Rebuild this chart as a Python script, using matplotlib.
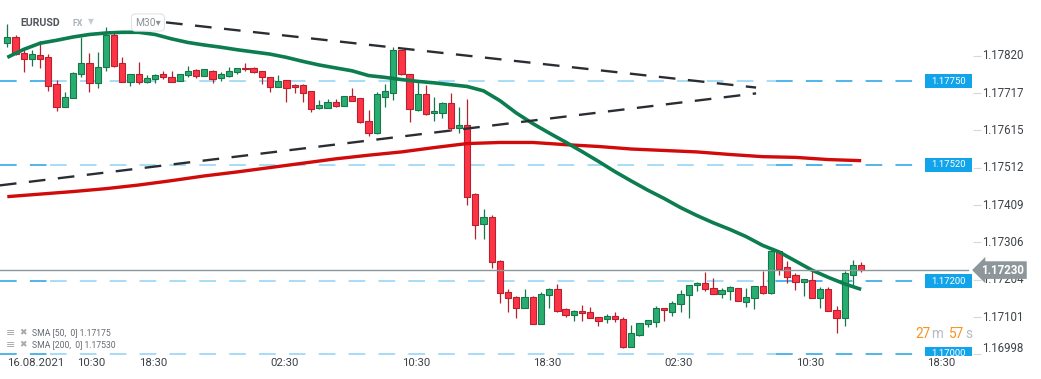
import numpy as np
import matplotlib.pyplot as plt
from matplotlib.patches import Rectangle
from matplotlib.transforms import offset_copy

plt.rcParams['font.family'] = ['Roboto', 'DejaVu Sans']
plt.rcParams['lines.scale_dashes'] = False

# EURUSD M30 candles
opens = [1.17854, 1.17870, 1.17826, 1.17811, 1.17822, 1.17815, 1.17742, 1.17678, 1.17702, 1.17769,
         1.17799, 1.17744, 1.17788, 1.17877, 1.17799, 1.17746, 1.17769, 1.17746, 1.17755, 1.17769,
         1.17762, 1.17749, 1.17767, 1.17780, 1.17763, 1.17778, 1.17757, 1.17764, 1.17775, 1.17787,
         1.17785, 1.17778, 1.17760, 1.17734, 1.17753, 1.17738, 1.17738, 1.17723, 1.17675, 1.17677,
         1.17691, 1.17681, 1.17710, 1.17702, 1.17640, 1.17608, 1.17707, 1.17718, 1.17835, 1.17769,
         1.17670, 1.17713, 1.17661, 1.17661, 1.17689, 1.17620, 1.17628, 1.17438, 1.17356, 1.17375,
         1.17254, 1.17169, 1.17155, 1.17125, 1.17155, 1.17081, 1.17161, 1.17177, 1.17122, 1.17106,
         1.17118, 1.17114, 1.17100, 1.17095, 1.17103, 1.17095, 1.17018, 1.17052, 1.17081, 1.17088,
         1.17125, 1.17116, 1.17136, 1.17161, 1.17188, 1.17194, 1.17180, 1.17163, 1.17172, 1.17180,
         1.17143, 1.17152, 1.17186, 1.17168, 1.17283, 1.17238, 1.17216, 1.17196, 1.17202, 1.17152,
         1.17177, 1.17120, 1.17097, 1.17217, 1.17244]
highs = [1.17907, 1.17877, 1.17837, 1.17835, 1.17859, 1.17824, 1.17753, 1.17720, 1.17776, 1.17872,
         1.17828, 1.17829, 1.17899, 1.17881, 1.17815, 1.17769, 1.17802, 1.17766, 1.17769, 1.17777,
         1.17777, 1.17768, 1.17791, 1.17782, 1.17782, 1.17780, 1.17776, 1.17789, 1.17787, 1.17800,
         1.17789, 1.17778, 1.17760, 1.17767, 1.17753, 1.17742, 1.17742, 1.17723, 1.17699, 1.17701,
         1.17701, 1.17710, 1.17730, 1.17702, 1.17670, 1.17719, 1.17741, 1.17844, 1.17835, 1.17769,
         1.17753, 1.17739, 1.17707, 1.17692, 1.17716, 1.17678, 1.17701, 1.17441, 1.17397, 1.17381,
         1.17258, 1.17177, 1.17159, 1.17177, 1.17159, 1.17170, 1.17181, 1.17192, 1.17126, 1.17120,
         1.17134, 1.17128, 1.17100, 1.17108, 1.17114, 1.17100, 1.17078, 1.17084, 1.17093, 1.17131,
         1.17125, 1.17145, 1.17175, 1.17188, 1.17198, 1.17226, 1.17207, 1.17180, 1.17186, 1.17180,
         1.17180, 1.17186, 1.17228, 1.17283, 1.17283, 1.17256, 1.17221, 1.17205, 1.17229, 1.17184,
         1.17183, 1.17131, 1.17228, 1.17258, 1.17251]
lows = [1.17844, 1.17822, 1.17776, 1.17792, 1.17787, 1.17723, 1.17668, 1.17678, 1.17702, 1.17760,
        1.17721, 1.17730, 1.17778, 1.17789, 1.17746, 1.17736, 1.17742, 1.17744, 1.17745, 1.17755,
        1.17746, 1.17749, 1.17762, 1.17759, 1.17763, 1.17745, 1.17751, 1.17760, 1.17769, 1.17778,
        1.17771, 1.17741, 1.17721, 1.17734, 1.17693, 1.17718, 1.17691, 1.17666, 1.17672, 1.17675,
        1.17678, 1.17681, 1.17696, 1.17634, 1.17599, 1.17603, 1.17679, 1.17698, 1.17767, 1.17638,
        1.17668, 1.17657, 1.17641, 1.17649, 1.17613, 1.17608, 1.17409, 1.17316, 1.17315, 1.17237,
        1.17139, 1.17116, 1.17099, 1.17125, 1.17081, 1.17081, 1.17127, 1.17116, 1.17102, 1.17091,
        1.17091, 1.17097, 1.17077, 1.17084, 1.17086, 1.17017, 1.17018, 1.17049, 1.17073, 1.17074,
        1.17091, 1.17105, 1.17116, 1.17099, 1.17173, 1.17172, 1.17163, 1.17154, 1.17148, 1.17144,
        1.17129, 1.17123, 1.17164, 1.17163, 1.17217, 1.17194, 1.17175, 1.17159, 1.17152, 1.17127,
        1.17118, 1.17056, 1.17077, 1.17189, 1.17224]
closes = [1.17870, 1.17824, 1.17811, 1.17824, 1.17810, 1.17737, 1.17678, 1.17707, 1.17773, 1.17799,
          1.17744, 1.17788, 1.17877, 1.17792, 1.17746, 1.17769, 1.17746, 1.17758, 1.17767, 1.17760,
          1.17746, 1.17768, 1.17778, 1.17764, 1.17782, 1.17755, 1.17768, 1.17778, 1.17787, 1.17782,
          1.17774, 1.17760, 1.17734, 1.17751, 1.17732, 1.17733, 1.17718, 1.17674, 1.17683, 1.17691,
          1.17681, 1.17710, 1.17696, 1.17638, 1.17608, 1.17713, 1.17722, 1.17835, 1.17769, 1.17672,
          1.17713, 1.17658, 1.17667, 1.17689, 1.17620, 1.17628, 1.17432, 1.17353, 1.17375, 1.17251,
          1.17166, 1.17152, 1.17125, 1.17155, 1.17081, 1.17163, 1.17177, 1.17118, 1.17106, 1.17118,
          1.17111, 1.17097, 1.17089, 1.17103, 1.17096, 1.17019, 1.17056, 1.17084, 1.17093, 1.17125,
          1.17119, 1.17139, 1.17163, 1.17188, 1.17194, 1.17177, 1.17163, 1.17175, 1.17183, 1.17144,
          1.17155, 1.17186, 1.17166, 1.17283, 1.17232, 1.17212, 1.17198, 1.17205, 1.17152, 1.17177,
          1.17118, 1.17097, 1.17221, 1.17244, 1.17230]

# SMA 50 (every 2nd candle) and SMA 200 (every 4th candle)
sma50_idx = np.arange(0, 105, 2)
sma50 = [1.17815, 1.17837, 1.17854, 1.17862, 1.17871, 1.17878, 1.17882, 1.17884, 1.17884, 1.17878,
         1.17866, 1.17856, 1.17849, 1.17843, 1.17836, 1.17830, 1.17824, 1.17815, 1.17804, 1.17794,
         1.17786, 1.17778, 1.17765, 1.17760, 1.17754, 1.17749, 1.17745, 1.17740, 1.17735, 1.17723,
         1.17696, 1.17662, 1.17633, 1.17607, 1.17582, 1.17556, 1.17529, 1.17501, 1.17475, 1.17450,
         1.17427, 1.17402, 1.17380, 1.17360, 1.17342, 1.17322, 1.17298, 1.17280, 1.17255, 1.17230,
         1.17210, 1.17192, 1.17177]
sma200_idx = np.arange(0, 105, 4)
sma200 = [1.17432, 1.17439, 1.17446, 1.17454, 1.17464, 1.17476, 1.17489, 1.17500, 1.17512, 1.17524,
          1.17536, 1.17546, 1.17555, 1.17567, 1.17578, 1.17581, 1.17581, 1.17575, 1.17570, 1.17563,
          1.17559, 1.17555, 1.17548, 1.17542, 1.17540, 1.17534, 1.17531]

# drawn trend lines (candle index, price)
upper_trend_x = [15.8, 91.2]
upper_trend_y = [1.17920, 1.17732]
lower_trend_x = [-0.9, 91.2]
lower_trend_y = [1.17463, 1.17716]

levels = [1.17750, 1.17520, 1.17200, 1.17000]
last_price = 1.17230
price_ticks = [1.17820, 1.17717, 1.17615, 1.17512, 1.17409, 1.17306, 1.17204, 1.17101, 1.16998]
time_labels = ["18:30", "02:30", "10:30", "18:30", "02:30", "10:30", "18:30"]

fig = plt.figure(figsize=(10.41, 3.79), dpi=100)
fig.patch.set_facecolor('white')
ax = fig.add_axes([0, 23 / 379, 973 / 1041, 356 / 379])
ax.set_facecolor('white')
for s in ax.spines.values():
    s.set_visible(False)

x = np.arange(len(opens))
o = np.array(opens)
c = np.array(closes)
up = c >= o
fills = np.where(up, '#27ad6f', '#fd3446')
edges = np.where(up, '#17774b', '#b8202f')
ax.vlines(x, lows, highs, colors=edges, lw=0.9, zorder=2)
ax.bar(x, np.maximum(np.abs(c - o), 0.00004), bottom=np.minimum(o, c), width=0.76,
       color=fills, edgecolor=edges, linewidth=0.8, zorder=2.5)

# horizontal levels
dark_blue = '#1fa2e6'
light_blue = '#8fd2f5'
for lv in levels:
    for x0, x1, col in [(-0.9, 5.2, dark_blue), (5.2, 93.6, light_blue), (93.6, 111.3, dark_blue)]:
        ax.plot([x0, x1], [lv, lv], color=col, lw=1.1, dashes=(12, 9.5), zorder=1)
    ax.add_patch(Rectangle((925 / 973, lv - 0.000193), 47 / 973, 0.000385,
                           transform=ax.get_yaxis_transform(), fc='#12a4ea', ec='none', zorder=6))
    ax.text(948.5 / 973, lv, f'{lv:.5f}', transform=ax.get_yaxis_transform(), ha='center',
            va='center', color='white', fontsize=6.8, zorder=7, clip_on=True)

ax.plot(sma200_idx, sma200, color='#d10a0a', lw=2.4, zorder=3, solid_capstyle='butt')
ax.plot(sma50_idx, sma50, color='#0b7d4f', lw=2.6, zorder=3.2, solid_capstyle='butt')

ax.plot(upper_trend_x, upper_trend_y, color='#2a2e33', lw=1.7, dashes=(12, 9), zorder=4)
ax.plot(lower_trend_x, lower_trend_y, color='#2a2e33', lw=1.7, dashes=(12, 9), zorder=4)

# last price line and label
ax.plot([-0.9, 117], [last_price, last_price], color='#8d979b', lw=1.0, zorder=3.5)
ax.text(1003 / 973, last_price, f'{last_price:.5f}', transform=ax.get_yaxis_transform(),
        ha='center', va='center', color='white', fontsize=8.3, fontweight='bold',
        bbox=dict(boxstyle='larrow,pad=0.2', fc='#8d979b', ec='none'), clip_on=False, zorder=8)

ax.set_xlim(-0.89, 117.62)
ax.set_ylim(1.169938, 1.179728)

# price axis
ax.yaxis.tick_right()
ax.set_yticks(price_ticks)
ax.set_yticklabels([])
ax.tick_params(axis='y', length=6, width=0.8, color='#d5d9dc', direction='out')
for v in price_ticks:
    dy = 6 if v == price_ticks[-1] else 0
    tr = offset_copy(ax.get_yaxis_transform(), fig=fig, x=9, y=dy, units='dots')
    ax.text(1.0, v, f'{v:.5f}', transform=tr, ha='left', va='center', fontsize=8.3,
            color='#3d4247', zorder=5)

# time axis
ax.set_xticks(17.8 + 16 * np.arange(len(time_labels)), time_labels)
ax.tick_params(axis='x', length=0, pad=1.5, labelsize=8.2, labelcolor='#3d4247')


def px(xp, yp):
    return xp / 1041, 1 - yp / 379


fig.text(*px(7, 362.5), '16.08.2021', fontsize=8.2, color='#3d4247', va='center')
fig.text(*px(77, 362.5), '10:30', fontsize=8.2, color='#3d4247', va='center')

# header
fig.text(*px(20.5, 23), 'EURUSD', fontsize=7.6, fontweight='bold', color='#50565c', va='center')
fig.text(*px(72.5, 24), 'FX', fontsize=6.4, fontweight='bold', color='#a9b4bc', va='center')
fig.text(*px(88, 21.5), '▼', fontsize=5.5, color='#c5ccd1', va='center')
fig.text(*px(135, 22.5), 'M30▾', fontsize=7.4, color='#8a9399', va='center', zorder=9,
         bbox=dict(boxstyle='round,pad=0.35,rounding_size=0.4', fc='white', ec='#dfe3e6', lw=0.8))

# indicator legend
for yy, txt in [(332.7, 'SMA [50,  0] 1.17175'), (345, 'SMA [200,  0] 1.17530')]:
    fig.text(*px(5.5, yy), '≡', fontsize=8, color='#a3a9ae', va='center')
    fig.text(*px(19.5, yy), '✖', fontsize=6.5, color='#a3a9ae', va='center')
    fig.text(*px(31.5, yy), txt, fontsize=6.2, color='#666b70', va='center')

# countdown
fig.text(*px(915, 334), '27', fontsize=9.8, color='#f7931e', va='center')
fig.text(*px(931.5, 334), 'm', fontsize=9.8, color='#b5bcc2', va='center')
fig.text(*px(949, 334), '57', fontsize=9.8, color='#f7931e', va='center')
fig.text(*px(965.5, 334), 's', fontsize=9.8, color='#b5bcc2', va='center')

fig.savefig('out.png', dpi=100)
